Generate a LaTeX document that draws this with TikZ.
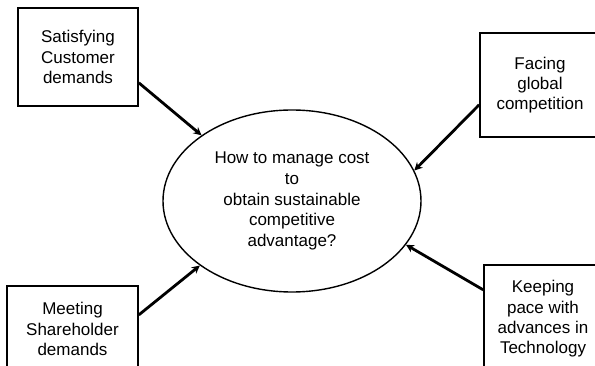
\documentclass[tikz,border=0pt]{standalone}
\usepackage{fontspec}
\setmainfont{Liberation Sans}
\usetikzlibrary{arrows.meta,shapes.geometric}

\begin{document}
\begin{tikzpicture}[x=1pt, y=-1pt,
  box/.style={draw, rectangle, line width=1.6pt, align=center, inner sep=0pt,
    font=\fontsize{17}{20.3}\selectfont},
  issue/.style={draw, ellipse, line width=1.4pt, align=center, inner sep=0pt,
    minimum width=258pt, minimum height=182pt, font=\fontsize{17}{20.6}\selectfont},
  push/.style={-{Stealth[length=8pt,width=8pt]}, line width=2.8pt}]
\useasboundingbox (0,0) rectangle (595,366);
\clip (0,0) rectangle (595,366);
\node[issue] (cost) at (292,201) {How to manage cost\\to\\obtain sustainable\\competitive\\advantage?};
\node[box, minimum width=120pt, minimum height=98pt] (customer) at (78,57) {Satisfying\\Customer\\demands};
\node[box, minimum width=120pt, minimum height=104pt] (global) at (540,85) {Facing\\global\\competition};
\node[box, minimum width=131pt, minimum height=86pt] (holder) at (72.5,329) {Meeting\\Shareholder\\demands};
\node[box, minimum width=118pt, minimum height=108pt] (techno) at (543,319) {Keeping\\pace with\\advances in\\Technology};
\draw[push] (customer.-23) -- (cost.144.6);
\draw[push] (global.198) -- (cost.14.5);
\draw[push] (holder.12) -- (cost.215.4);
\draw[push] (techno.154) -- (cost.-21.8);
\end{tikzpicture}
\end{document}
